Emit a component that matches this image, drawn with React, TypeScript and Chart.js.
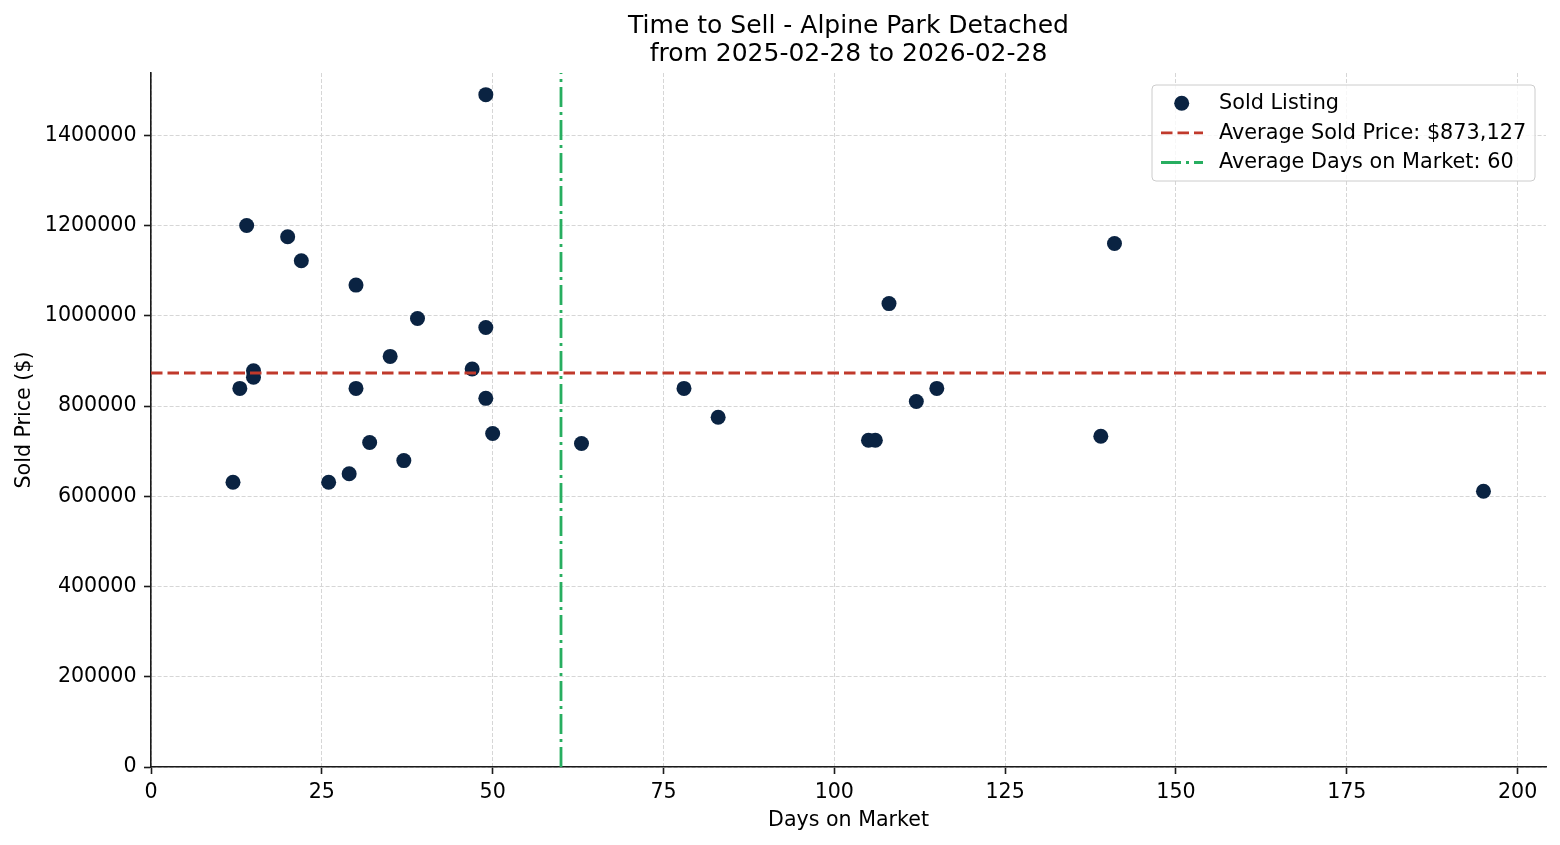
import React, { useEffect, useRef } from 'react';
import { Chart, registerables } from 'chart.js';

Chart.register(...registerables);

// Datos (días en mercado / precio de venta)
const DAYS_ON_MARKET = [12, 13, 14, 15, 15, 20, 22, 26, 29, 30, 30, 32, 35, 37, 39, 47, 49, 49, 49, 50, 63, 78, 83, 105, 106, 108, 112, 115, 139, 141, 195];
const SOLD_PRICES = [631000, 839000, 1200000, 878000, 864000, 1175000, 1122000, 631000, 650000, 1068000, 839000, 719000, 910000, 679000, 994000, 882000, 1490000, 974000, 817000, 739000, 717000, 839000, 775000, 724000, 724000, 1027000, 810000, 839000, 733000, 1160000, 611000];

const AVG_PRICE = 873127;
const AVG_DAYS = 60;

const X_MIN = 0;
const X_MAX = 204.15;
const Y_MIN = 0;
const Y_MAX = 1538000;
const X_TICKS = [0, 25, 50, 75, 100, 125, 150, 175, 200];
const Y_TICKS = [0, 200000, 400000, 600000, 800000, 1000000, 1200000, 1400000];

const TITLE_LINES = ['Time to Sell - Alpine Park Detached', 'from 2025-02-28 to 2026-02-28'];
const LEGEND_LABELS = ['Sold Listing', 'Average Sold Price: $873,127', 'Average Days on Market: ' + AVG_DAYS];

const FONT = "'DejaVu Sans', 'Liberation Sans', sans-serif";
const NAVY = '#0a2342';
const RED = '#c0392b';
const GREEN = '#27ae60';
const RED_DASH = [11.5, 5];
const GREEN_DASH = [20, 5, 3, 5];

// Título de dos líneas centrado sobre el área del gráfico
const titlePlugin = {
  id: 'twoLineTitle',
  afterDraw(chart: any) {
    const { ctx, chartArea } = chart;
    const cx = (chartArea.left + chartArea.right) / 2;
    ctx.save();
    ctx.fillStyle = '#000';
    ctx.font = `25px ${FONT}`;
    ctx.textAlign = 'center';
    ctx.textBaseline = 'alphabetic';
    ctx.fillText(TITLE_LINES[0], cx, 33);
    ctx.fillText(TITLE_LINES[1], cx, 61);
    ctx.restore();
  },
};

// Leyenda al estilo matplotlib (arriba a la derecha, con marco)
const legendPlugin = {
  id: 'boxLegend',
  afterDraw(chart: any) {
    const { ctx } = chart;
    const left = 1152, top = 85, right = 1535, bottom = 181, r = 4;
    ctx.save();
    ctx.beginPath();
    ctx.moveTo(left + r, top);
    ctx.arcTo(right, top, right, bottom, r);
    ctx.arcTo(right, bottom, left, bottom, r);
    ctx.arcTo(left, bottom, left, top, r);
    ctx.arcTo(left, top, right, top, r);
    ctx.closePath();
    ctx.fillStyle = 'rgba(255,255,255,0.8)';
    ctx.fill();
    ctx.strokeStyle = '#cccccc';
    ctx.lineWidth = 1;
    ctx.stroke();

    const rows = [103.3, 132.8, 162.5];
    // marcador
    ctx.beginPath();
    ctx.arc(1181.7, rows[0], 7.5, 0, Math.PI * 2);
    ctx.fillStyle = NAVY;
    ctx.fill();
    // líneas
    ctx.lineWidth = 2.8;
    ctx.lineCap = 'butt';
    ctx.strokeStyle = RED;
    ctx.setLineDash(RED_DASH);
    ctx.beginPath();
    ctx.moveTo(1161, rows[1]);
    ctx.lineTo(1203, rows[1]);
    ctx.stroke();
    ctx.strokeStyle = GREEN;
    ctx.setLineDash(GREEN_DASH);
    ctx.beginPath();
    ctx.moveTo(1161, rows[2]);
    ctx.lineTo(1203, rows[2]);
    ctx.stroke();
    ctx.setLineDash([]);

    ctx.fillStyle = '#000';
    ctx.font = `20.8px ${FONT}`;
    ctx.textAlign = 'left';
    ctx.textBaseline = 'middle';
    LEGEND_LABELS.forEach((t, i) => ctx.fillText(t, 1219, rows[i] + 0.5));
    ctx.restore();
  },
};

const App: React.FC = () => {
  const chartRef = useRef<HTMLCanvasElement>(null);
  const chartInstance = useRef<Chart | null>(null);

  useEffect(() => {
    document.body.style.margin = '0';
    if (!chartRef.current) return;
    const ctx = chartRef.current.getContext('2d');
    if (!ctx) return;

    const points = DAYS_ON_MARKET.map((d, i) => ({ x: d, y: SOLD_PRICES[i] }));

    const gridOpts = {
      color: '#d6d6d6',
      lineWidth: 1,
      tickLength: 7,
      tickColor: '#1a1a1a',
      tickWidth: 1.6,
    };

    chartInstance.current = new Chart(ctx, {
      type: 'scatter',
      data: {
        datasets: [
          {
            label: LEGEND_LABELS[1],
            data: [{ x: X_MIN, y: AVG_PRICE }, { x: X_MAX, y: AVG_PRICE }],
            showLine: true,
            borderColor: RED,
            borderWidth: 2.8,
            borderDash: RED_DASH,
            pointRadius: 0,
            order: 0,
          },
          {
            label: LEGEND_LABELS[2],
            data: [{ x: AVG_DAYS, y: Y_MIN }, { x: AVG_DAYS, y: Y_MAX }],
            showLine: true,
            borderColor: GREEN,
            borderWidth: 2.8,
            borderDash: GREEN_DASH,
            pointRadius: 0,
            order: 0,
          },
          {
            label: LEGEND_LABELS[0],
            data: points,
            backgroundColor: NAVY,
            borderWidth: 0,
            pointRadius: 7.5,
            order: 1,
          },
        ],
      },
      options: {
        responsive: false,
        animation: false,
        events: [],
        layout: { padding: { left: 0, right: 14, top: 73, bottom: 0 } },
        plugins: {
          legend: { display: false },
          title: { display: false },
          tooltip: { enabled: false },
        },
        scales: {
          x: {
            type: 'linear',
            min: X_MIN,
            max: X_MAX,
            afterFit: (scale: any) => { scale.height = 78; },
            afterBuildTicks: (scale: any) => { scale.ticks = X_TICKS.map((v) => ({ value: v })); },
            grid: gridOpts,
            border: { display: true, color: '#1a1a1a', width: 1.6, dash: [4, 2] },
            ticks: {
              maxRotation: 0,
              autoSkip: false,
              padding: 6.5,
              color: '#000',
              font: { family: FONT, size: 20.6 },
              callback: (v: any) => String(v),
            },
            title: {
              display: true,
              text: 'Days on Market',
              color: '#000',
              font: { family: FONT, size: 20.6 },
              padding: { top: 0, bottom: 11.5 },
            },
          },
          y: {
            type: 'linear',
            min: Y_MIN,
            max: Y_MAX,
            afterFit: (scale: any) => { scale.width = 151; },
            afterBuildTicks: (scale: any) => { scale.ticks = Y_TICKS.map((v) => ({ value: v })); },
            grid: gridOpts,
            border: { display: true, color: '#1a1a1a', width: 1.6, dash: [4, 2] },
            ticks: {
              autoSkip: false,
              padding: 7.5,
              color: '#000',
              font: { family: FONT, size: 20.6 },
              callback: (v: any) => String(v),
            },
            title: {
              display: true,
              text: 'Sold Price ($)',
              color: '#000',
              font: { family: FONT, size: 20.6 },
              padding: { top: 12, bottom: 0 },
            },
          },
        },
      },
      plugins: [titlePlugin, legendPlugin],
    } as any);

    return () => {
      if (chartInstance.current) {
        chartInstance.current.destroy();
        chartInstance.current = null;
      }
    };
  }, []);

  return (
    <div style={{ position: 'absolute', left: 0, top: 0, width: 1560, height: 845, background: '#fff' }}>
      <canvas ref={chartRef} width={1560} height={845}></canvas>
    </div>
  );
};

export default App;
